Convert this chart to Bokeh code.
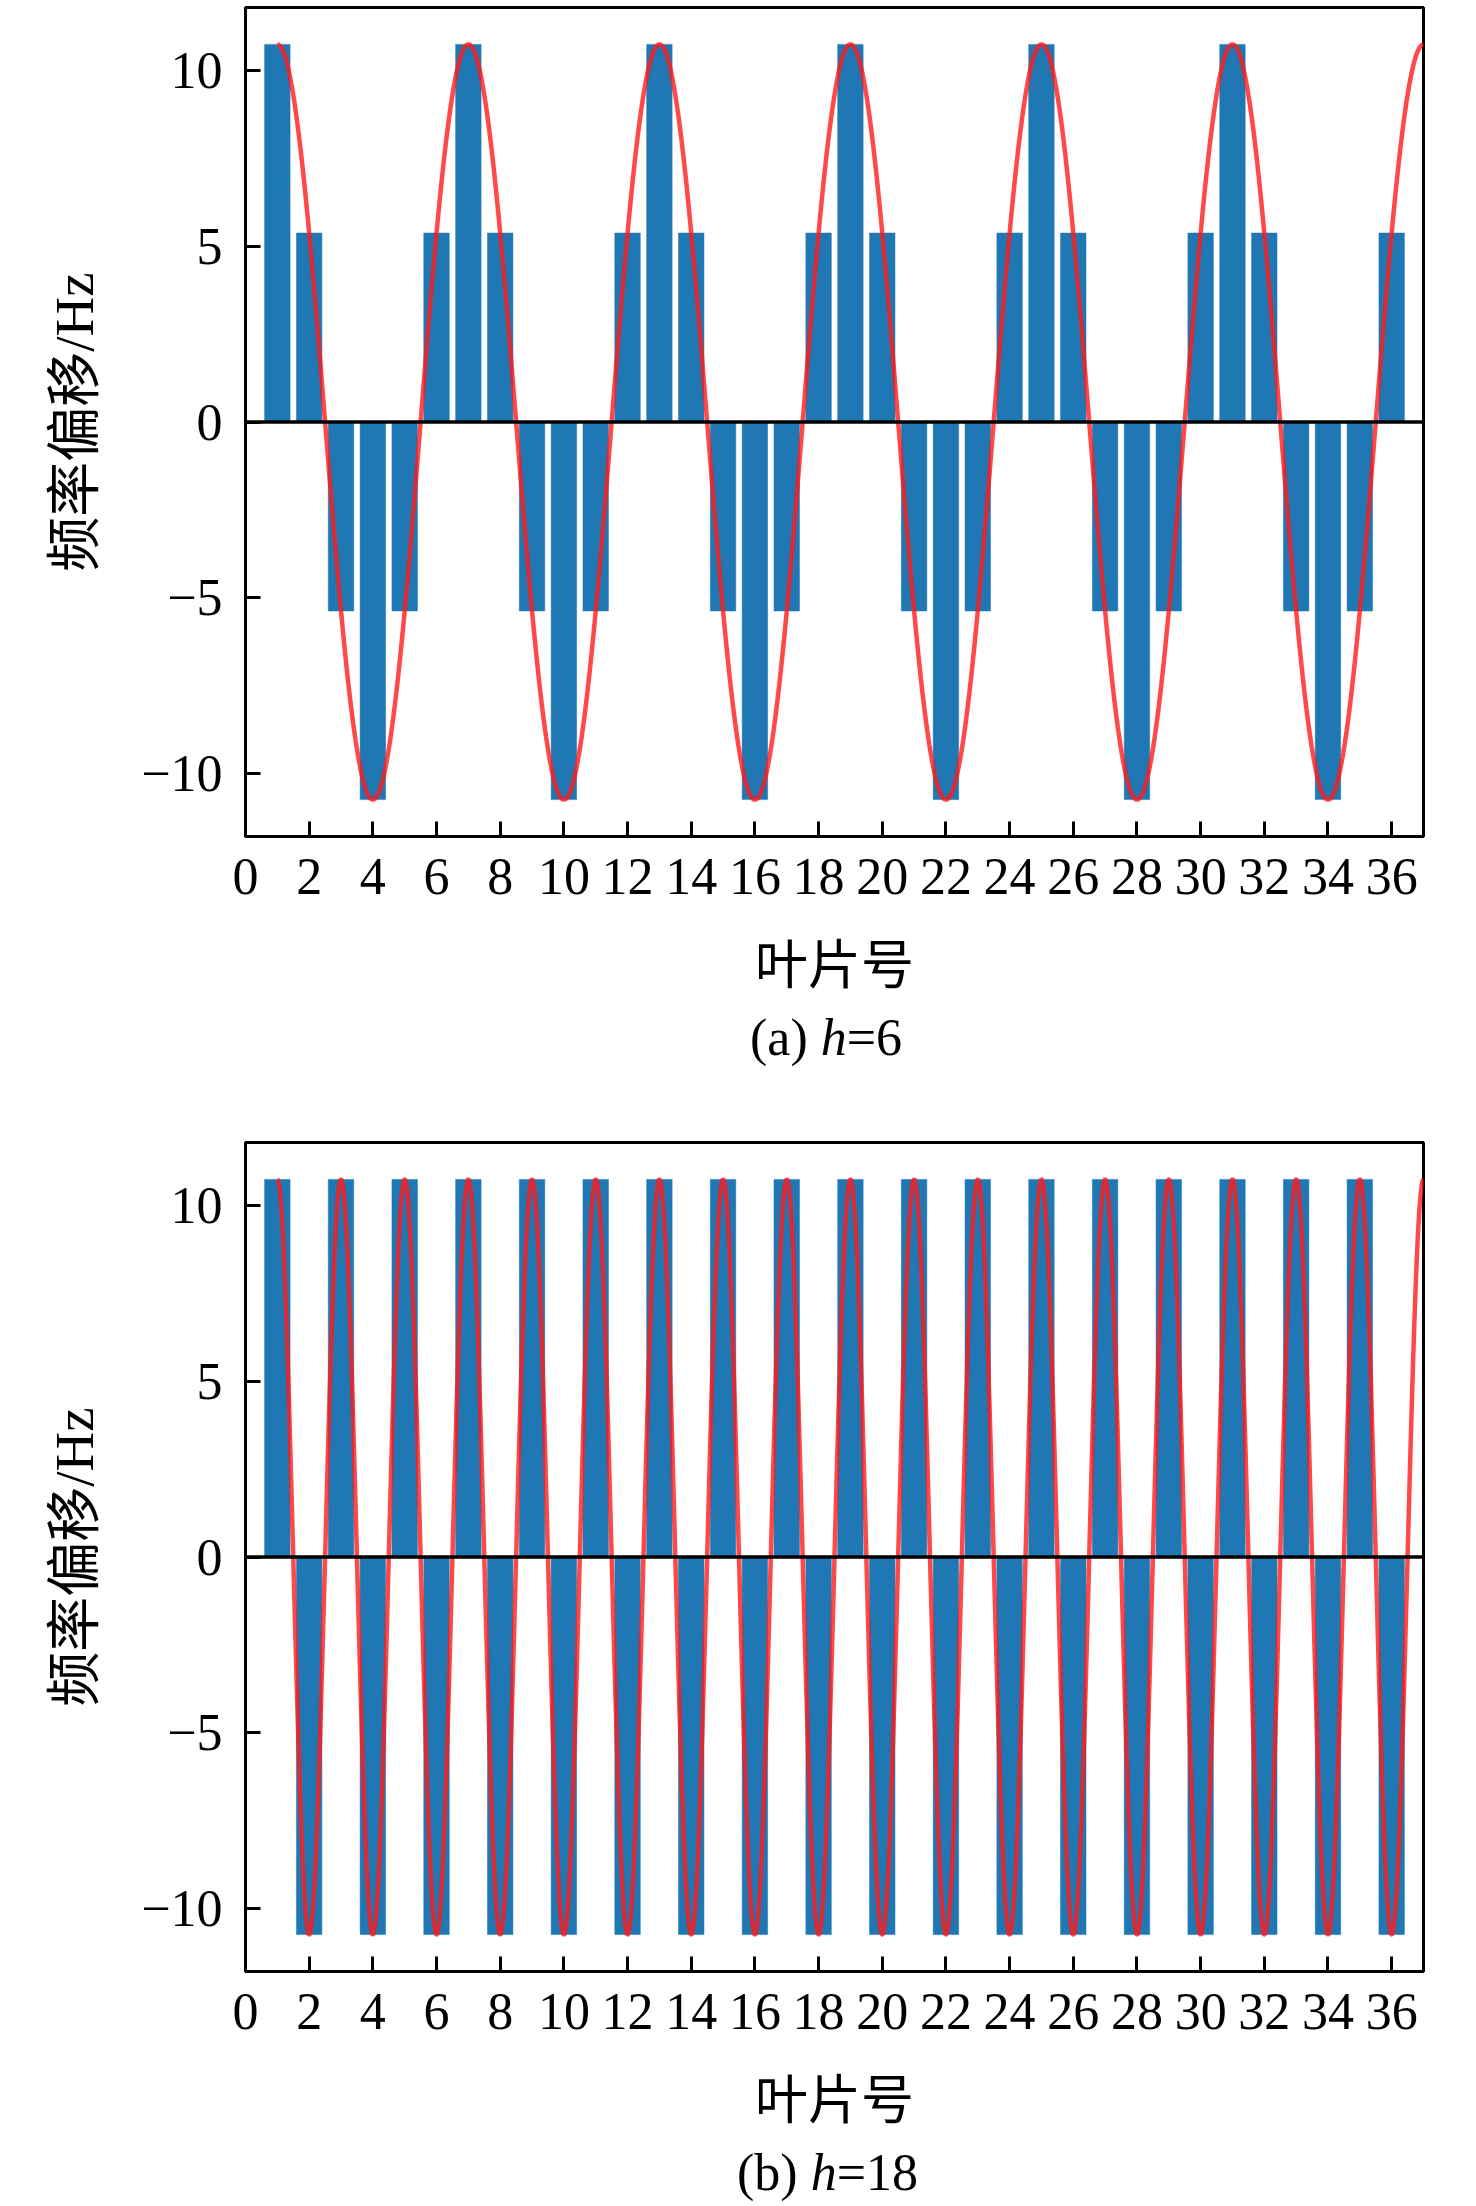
import numpy as np
from bokeh.plotting import figure
from bokeh.models import Span, FixedTicker, Range1d, Div
from bokeh.layouts import column
from bokeh.embed import file_html
from bokeh.resources import INLINE

# ---- data ----
blades = list(range(1, 37))
shift_h6 = [10.75, 5.38, -5.38, -10.75, -5.38, 5.38,
            10.75, 5.38, -5.38, -10.75, -5.38, 5.38,
            10.75, 5.38, -5.38, -10.75, -5.38, 5.38,
            10.75, 5.38, -5.38, -10.75, -5.38, 5.38,
            10.75, 5.38, -5.38, -10.75, -5.38, 5.38,
            10.75, 5.38, -5.38, -10.75, -5.38, 5.38]
shift_h18 = [10.75, -10.75, 10.75, -10.75, 10.75, -10.75,
             10.75, -10.75, 10.75, -10.75, 10.75, -10.75,
             10.75, -10.75, 10.75, -10.75, 10.75, -10.75,
             10.75, -10.75, 10.75, -10.75, 10.75, -10.75,
             10.75, -10.75, 10.75, -10.75, 10.75, -10.75,
             10.75, -10.75, 10.75, -10.75, 10.75, -10.75]
wave_amplitude = 10.75
harmonics = [6, 18]
blade_count = 36
x_ticks = [0, 2, 4, 6, 8, 10, 12, 14, 16, 18, 20, 22, 24, 26, 28, 30, 32, 34, 36]
y_ticks = [-10, -5, 0, 5, 10]
y_tick_labels = ["\u221210", "\u22125", "0", "5", "10"]
captions = ["(a) <i>h</i>=6", "(b) <i>h</i>=18"]
x_label = "叶片号"
y_label = "频率偏移/Hz"

XMIN, XMAX = 0, 37
YMIN, YMAX = -11.8, 11.8
FRAME_W, FRAME_H = 1178, 829
SERIF = "Liberation Serif"
MIXED = "Liberation Serif, Noto Sans CJK SC"
BLUE = "#1f77b4"


def make_panel(values, h, top, bottom):
    p = figure(frame_width=FRAME_W, frame_height=FRAME_H,
               x_range=Range1d(XMIN, XMAX), y_range=Range1d(YMIN, YMAX),
               min_border_left=245, min_border_right=20,
               min_border_top=top, min_border_bottom=bottom,
               toolbar_location=None, output_backend="svg",
               background_fill_color="white", border_fill_color="white")
    p.grid.visible = False
    p.outline_line_color = "black"
    p.outline_line_width = 3

    p.vbar(x=blades, top=values, bottom=0, width=0.8,
           fill_color=BLUE, line_color=BLUE, line_width=0.5)
    p.add_layout(Span(location=0, dimension="width", line_color="black", line_width=3.5))

    xs = np.linspace(1, blade_count + 1, 3000)
    ys = wave_amplitude * np.cos(2 * np.pi * h * (xs - 1) / blade_count)
    p.line(xs, ys, line_color="#ff1a1a", line_alpha=0.8, line_width=4.5)

    for ax in (p.xaxis[0], p.yaxis[0]):
        ax.axis_line_color = "black"
        ax.axis_line_width = 3
        ax.major_tick_line_width = 3
        ax.major_tick_in = 15
        ax.major_tick_out = 0
        ax.minor_tick_line_color = None
        ax.major_label_text_font = SERIF
        ax.major_label_text_font_size = "52px"
        ax.major_label_text_color = "black"
        ax.axis_label_text_font = MIXED
        ax.axis_label_text_font_style = "normal"
        ax.axis_label_text_color = "black"
    p.xaxis[0].ticker = FixedTicker(ticks=x_ticks)
    p.yaxis[0].ticker = FixedTicker(ticks=y_ticks)
    p.yaxis[0].major_label_overrides = {t: s for t, s in zip(y_ticks, y_tick_labels)}
    p.xaxis[0].major_label_standoff = 22
    p.yaxis[0].major_label_standoff = 23
    p.xaxis[0].axis_label = x_label
    p.xaxis[0].axis_label_text_font_size = "53px"
    p.xaxis[0].axis_label_standoff = 40
    p.yaxis[0].axis_label = y_label
    p.yaxis[0].axis_label_text_font_size = "55px"
    p.yaxis[0].axis_label_standoff = 33
    return p


def make_caption(text, pad):
    return Div(text=text, width=1400, height=60, margin=(0, 0, 0, 0),
               styles={"font-family": SERIF, "font-size": "52px",
                       "line-height": "60px", "padding-left": f"{pad}px",
                       "color": "black", "white-space": "nowrap"})


pa = make_panel(shift_h6, harmonics[0], 7, 172)
ca = make_caption(captions[0], 750)
pb = make_panel(shift_h18, harmonics[1], 74, 172)
cb = make_caption(captions[1], 737)

layout = column(pa, ca, pb, cb, spacing=0)
open("out.html", "w").write(file_html(layout, INLINE))
